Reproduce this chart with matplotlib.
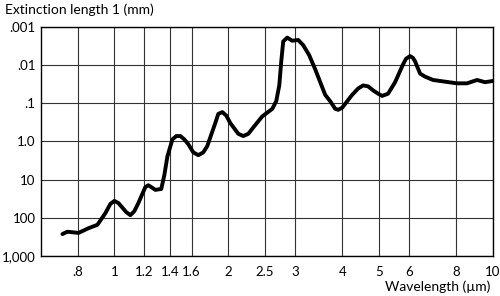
import numpy as np
import matplotlib
matplotlib.use("Agg")
from matplotlib import pyplot as plt
from matplotlib.ticker import NullLocator

# wavelength (um) and extinction length (mm)
wavelength = [0.729, 0.751, 0.804, 0.854, 0.902, 0.947, 0.976, 1.0, 1.025, 1.05,
              1.075, 1.102, 1.129, 1.157, 1.207, 1.229, 1.252, 1.283, 1.33, 1.355,
              1.38, 1.423, 1.457, 1.494, 1.53, 1.568, 1.616, 1.666, 1.717, 1.759,
              1.847, 1.881, 1.928, 1.975, 2.024, 2.125, 2.19, 2.258, 2.327, 2.458,
              2.612, 2.676, 2.726, 2.759, 2.792, 2.861, 2.949, 3.059, 3.153, 3.27,
              3.392, 3.604, 3.715, 3.83, 3.9, 3.997, 4.246, 4.404, 4.539, 4.68,
              4.825, 4.973, 5.095, 5.284, 5.513, 5.788, 5.893, 6.039, 6.15, 6.226,
              6.418, 6.614, 6.945, 8.035, 8.539, 9.075, 9.526, 10.0]
ext_length = [266, 231, 248, 187, 152, 75, 43, 36, 41, 54,
              71, 85, 67, 41, 15.7, 14, 15.7, 18.5, 17.5, 7.6,
              2.5, 0.88, 0.72, 0.72, 0.88, 1.18, 1.93, 2.28, 1.93, 1.32,
              0.33, 0.19, 0.17, 0.21, 0.33, 0.63, 0.72, 0.63, 0.43, 0.22,
              0.14, 0.088, 0.034, 0.0080, 0.0024, 0.0019, 0.0023, 0.0022, 0.0030, 0.0055,
              0.0129, 0.060, 0.088, 0.139, 0.148, 0.130, 0.060, 0.041, 0.034, 0.036,
              0.046, 0.056, 0.064, 0.056, 0.028, 0.0095, 0.0068, 0.0058, 0.0065, 0.0080,
              0.0167, 0.020, 0.0245, 0.030, 0.030, 0.0245, 0.028, 0.026]

x_ticks = [0.8, 1, 1.2, 1.4, 1.6, 2, 2.5, 3, 4, 5, 6, 8, 10]
x_labels = ['.8', '1', '1.2', '1.4', '1.6', '2', '2.5', '3', '4', '5', '6', '8', '10']
y_ticks = [0.001, 0.01, 0.1, 1, 10, 100, 1000]
y_labels = ['.001', '.01', '.1', '1.0', '10', '100', '1,000']

plt.rcParams['font.family'] = ['Lato', 'DejaVu Sans']

fig = plt.figure(figsize=(5, 2.96), dpi=100)
ax = fig.add_axes([0.082, 0.135, 0.904, 0.774])

ax.plot(wavelength, ext_length, color='black', lw=2.8,
        solid_joinstyle='round', solid_capstyle='round')

ax.set_xscale('log')
ax.set_yscale('log')
ax.set_xlim(0.64, 10)
ax.set_ylim(1000, 0.001)

ax.set_xticks(x_ticks)
ax.set_xticklabels(x_labels)
ax.set_yticks(y_ticks)
ax.set_yticklabels(y_labels)
ax.xaxis.set_minor_locator(NullLocator())
ax.yaxis.set_minor_locator(NullLocator())
ax.tick_params(length=0, labelsize=9.5)
ax.tick_params(axis='y', pad=4)
ax.tick_params(axis='x', pad=7)

ax.grid(True, color='#333333', lw=0.8)
for s in ax.spines.values():
    s.set_linewidth(1.0)

fig.text(0.01, 0.99, 'Extinction length 1 (mm)', fontsize=10, va='top', ha='left')
fig.text(0.98, 0.03, 'Wavelength (\u00b5m)', fontsize=10, va='center', ha='right')

fig.savefig('out.png', dpi=100)
